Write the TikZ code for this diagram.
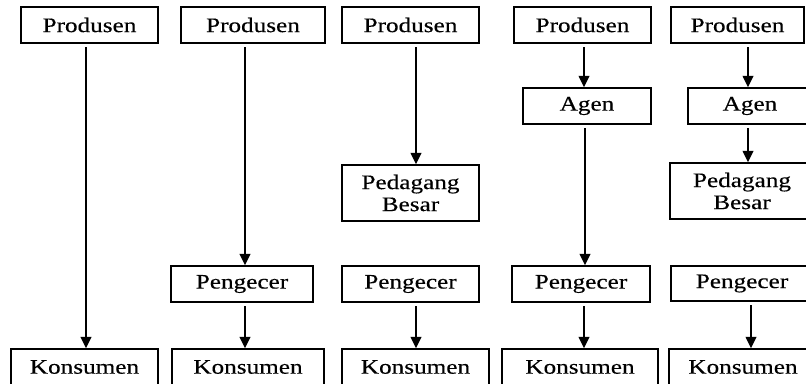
\documentclass[tikz,border=0pt]{standalone}
\usepackage{fontspec}
\setmainfont[FakeStretch=1.22,FakeBold=0.3]{Liberation Serif}
\usetikzlibrary{arrows.meta}
\tikzset{
  box/.style={draw=black, line width=1.1pt, inner sep=0pt, align=center,
    font=\fontsize{15.5pt}{16.5pt}\selectfont},
  arr/.style={draw=black, line width=1.1pt, shorten <=2.5pt,
    -{Triangle[width=8pt,length=8.5pt]}}
}
\newcommand{\bx}[7]{% name, left, top, right, bottom, text
  \node[box, minimum width={(#4-#2)*0.75pt}, minimum height={(#5-#3)*0.75pt}]
    (#1) at ({(#2+#4)/2},{(#3+#5)/2}) {#6#7};}
\begin{document}
\begin{tikzpicture}[x=0.75pt,y=-0.75pt]
\useasboundingbox (0,0) rectangle (806,383);
\clip (0,0) rectangle (806,383);
% column x coordinates for connectors
\coordinate (c1) at (86,0);
\coordinate (c2) at (245,0);
\coordinate (c3) at (416,0);
\coordinate (c4) at (584,0);
\coordinate (c4b) at (585,0);
\coordinate (c5) at (748,0);
\coordinate (c5b) at (751,0);
% Produsen row
\bx{p1}{21}{7}{158}{43}{Produsen}{}
\bx{p2}{181}{7}{325}{43}{Produsen}{}
\bx{p3}{342}{7}{479}{43}{Produsen}{}
\bx{p4}{514}{7}{651}{43}{Produsen}{}
\bx{p5}{671}{7}{804}{43}{Produsen}{}
% Agen row
\bx{a4}{523}{88}{651}{124}{Agen}{}
\bx{a5}{688}{88}{812}{124}{Agen}{}
% Pedagang Besar row
\bx{b3}{342}{165}{479}{221}{Pedagang\\Besar}{}
\bx{b5}{670}{163}{814}{219}{Pedagang\\Besar}{}
% Pengecer row
\bx{e2}{171}{266}{313}{302}{Pengecer}{}
\bx{e3}{342}{266}{479}{302}{Pengecer}{}
\bx{e4}{512}{266}{650}{302}{Pengecer}{}
\bx{e5}{671}{266}{813}{301}{Pengecer}{}
% Konsumen row
\bx{k1}{11}{349}{158}{385}{Konsumen}{}
\bx{k2}{172}{349}{324}{385}{Konsumen}{}
\bx{k3}{342}{349}{489}{385}{Konsumen}{}
\bx{k4}{502}{349}{658}{385}{Konsumen}{}
\bx{k5}{669}{349}{817}{385}{Konsumen}{}
% connectors
\draw[arr] (p1.south -| c1) -- (k1.north -| c1);
\draw[arr] (p2.south -| c2) -- (e2.north -| c2);
\draw[arr] (e2.south -| c2) -- (k2.north -| c2);
\draw[arr] (p3.south -| c3) -- (b3.north -| c3);
\draw[arr] (e3.south -| c3) -- (k3.north -| c3);
\draw[arr] (p4.south -| c4) -- (a4.north -| c4);
\draw[arr] (a4.south -| c4b) -- (e4.north -| c4b);
\draw[arr] (e4.south -| c4) -- (k4.north -| c4);
\draw[arr] (p5.south -| c5) -- (a5.north -| c5);
\draw[arr] (a5.south -| c5) -- (b5.north -| c5);
\draw[arr] (e5.south -| c5b) -- (k5.north -| c5b);
\end{tikzpicture}
\end{document}
